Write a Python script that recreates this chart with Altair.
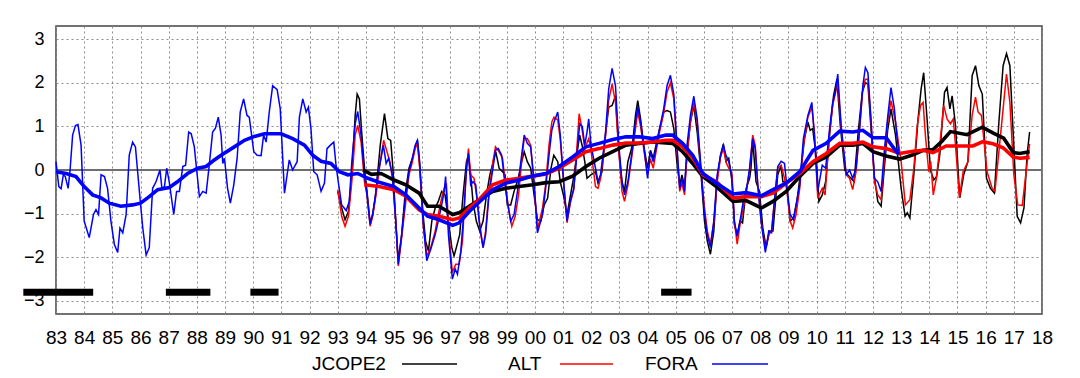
import altair as alt
import pandas as pd

# ---------------- data (decimal year, anomaly) ----------------
FORA_MONTHLY = [
    (1983.00, 0.19), (1983.10, -0.38), (1983.18, -0.43), (1983.26, -0.11), (1983.33, -0.15),
    (1983.43, -0.42), (1983.50, 0.00), (1983.59, 0.80), (1983.69, 1.02), (1983.78, 1.04),
    (1983.89, 0.57), (1984.00, -1.17), (1984.18, -1.55), (1984.33, -1.02), (1984.42, -0.91),
    (1984.51, -1.02), (1984.60, -0.11), (1984.72, -0.15), (1984.83, -0.42), (1984.95, -1.17),
    (1985.07, -1.70), (1985.19, -1.89), (1985.27, -1.33), (1985.37, -1.44), (1985.49, -1.02),
    (1985.60, 0.34), (1985.72, 0.64), (1985.82, 0.53), (1985.96, -0.49), (1986.08, -1.33),
    (1986.20, -1.95), (1986.31, -1.78), (1986.43, -0.42), (1986.55, -0.27), (1986.69, 0.00),
    (1986.76, -0.42), (1986.85, -0.38), (1986.93, 0.04), (1987.02, -0.27), (1987.18, -1.02),
    (1987.28, -0.49), (1987.38, -0.49), (1987.50, 0.08), (1987.60, 0.11), (1987.71, 0.87),
    (1987.80, 0.83), (1987.91, 0.53), (1988.09, -0.61), (1988.21, -0.49), (1988.33, -0.53),
    (1988.44, 0.11), (1988.56, 0.87), (1988.66, 0.96), (1988.76, 1.21), (1988.86, 0.80),
    (1988.92, 0.15), (1988.98, 0.27), (1989.09, -0.42), (1989.19, -0.76), (1989.31, -0.34),
    (1989.43, 0.27), (1989.54, 1.33), (1989.66, 1.63), (1989.78, 1.25), (1989.86, 1.21),
    (1990.02, 0.42), (1990.14, 0.34), (1990.28, 0.33), (1990.37, 0.80), (1990.46, 0.64),
    (1990.57, 1.33), (1990.69, 1.93), (1990.85, 1.84), (1990.96, 1.40), (1991.11, -0.53),
    (1991.28, 0.23), (1991.40, 0.00), (1991.56, 0.19), (1991.64, 1.21), (1991.76, 1.63),
    (1991.88, 1.33), (1991.96, 1.44), (1992.05, 0.95), (1992.15, -0.04), (1992.27, -0.11),
    (1992.41, -0.49), (1992.53, -0.30), (1992.62, 0.49), (1992.74, 0.57), (1992.86, 0.64),
    (1992.94, 0.11), (1993.02, -0.27), (1993.14, -0.80), (1993.30, -0.93), (1993.41, -0.72),
    (1993.50, 0.19), (1993.62, 1.06), (1993.71, 1.34), (1993.83, 0.80), (1993.95, -0.11),
    (1994.04, -0.57), (1994.15, -1.25), (1994.24, -1.02), (1994.33, -0.64), (1994.42, -0.11),
    (1994.54, 0.27), (1994.62, 0.57), (1994.72, 0.15), (1994.81, 0.27), (1994.94, -0.11),
    (1995.06, -1.17), (1995.15, -2.16), (1995.27, -1.48), (1995.39, -0.72), (1995.53, -0.04),
    (1995.65, 0.27), (1995.75, 0.57), (1995.83, 0.68), (1995.91, 0.19), (1996.03, -1.17),
    (1996.16, -2.08), (1996.30, -1.82), (1996.46, -1.48), (1996.57, -1.17), (1996.69, -0.80),
    (1996.78, -0.49), (1996.83, -0.15), (1996.93, -1.48), (1997.07, -2.50), (1997.17, -2.27),
    (1997.25, -2.39), (1997.37, -1.86), (1997.49, -0.87), (1997.57, 0.04), (1997.64, 0.38),
    (1997.72, -0.34), (1997.80, -0.27), (1997.90, -0.34), (1998.02, -1.17), (1998.16, -1.78),
    (1998.25, -1.48), (1998.37, -0.57), (1998.51, 0.04), (1998.60, 0.45), (1998.70, 0.49),
    (1998.82, 0.34), (1998.94, -0.34), (1999.02, -0.72), (1999.14, -1.17), (1999.26, -1.02),
    (1999.38, -0.49), (1999.50, 0.19), (1999.62, 0.80), (1999.73, 0.61), (1999.85, 0.53),
    (1999.97, -0.27), (2000.09, -1.44), (2000.27, -1.02), (2000.38, -0.42), (2000.50, 0.34),
    (2000.60, 0.91), (2000.68, 1.10), (2000.81, 1.33), (2000.90, 0.80), (2001.02, -0.27),
    (2001.14, -1.17), (2001.26, -0.70), (2001.38, -0.42), (2001.50, 0.42), (2001.59, 1.06),
    (2001.68, 1.00), (2001.77, 0.57), (2001.85, 0.87), (2001.91, 1.17), (2001.99, 0.57),
    (2002.15, 0.04), (2002.24, -0.27), (2002.33, -0.11), (2002.50, 0.80), (2002.62, 1.86),
    (2002.74, 2.33), (2002.86, 1.93), (2002.98, 0.57), (2003.09, -0.27), (2003.18, -0.57),
    (2003.30, -0.27), (2003.46, 0.49), (2003.57, 1.10), (2003.65, 1.44), (2003.75, 1.10),
    (2003.86, 0.57), (2004.00, -0.19), (2004.10, 0.42), (2004.20, 0.19), (2004.30, 0.50),
    (2004.40, 0.87), (2004.57, 1.40), (2004.69, 1.93), (2004.81, 2.17), (2004.93, 1.74),
    (2005.05, 0.49), (2005.14, -0.42), (2005.22, -0.19), (2005.31, -0.49), (2005.40, 0.57),
    (2005.52, 1.25), (2005.64, 1.69), (2005.76, 1.17), (2005.88, 0.19), (2006.02, -1.02),
    (2006.12, -1.48), (2006.23, -1.78), (2006.35, -1.17), (2006.47, -0.11), (2006.59, 0.34),
    (2006.69, 0.57), (2006.78, 0.34), (2006.88, 0.19), (2006.98, -0.11), (2007.08, -1.17),
    (2007.18, -1.52), (2007.28, -1.17), (2007.40, -0.70), (2007.50, -0.49), (2007.62, 0.04),
    (2007.73, 0.72), (2007.82, 0.49), (2007.91, -0.34), (2008.03, -1.17), (2008.18, -1.89),
    (2008.30, -1.40), (2008.40, -1.44), (2008.50, -0.72), (2008.62, 0.08), (2008.74, 0.20),
    (2008.86, 0.15), (2008.95, -0.42), (2009.06, -1.02), (2009.18, -1.14), (2009.27, -0.80),
    (2009.40, -0.34), (2009.53, 0.72), (2009.69, 1.25), (2009.83, 1.55), (2009.92, 0.80),
    (2010.04, -0.49), (2010.20, 0.11), (2010.32, 0.04), (2010.46, 0.95), (2010.57, 1.55),
    (2010.66, 1.78), (2010.75, 2.20), (2010.87, 1.02), (2011.05, -0.11), (2011.17, 0.00),
    (2011.28, -0.19), (2011.40, 0.04), (2011.52, 0.90), (2011.64, 1.93), (2011.73, 2.35),
    (2011.82, 2.23), (2011.93, 1.17), (2012.05, -0.19), (2012.17, -0.27), (2012.29, -0.49),
    (2012.41, 0.49), (2012.52, 1.20), (2012.64, 1.89), (2012.76, 1.40), (2012.86, 0.70),
    (2012.92, 0.40),
]

ALT_MONTHLY = [
    (1993.00, -0.45), (1993.14, -1.06), (1993.26, -1.29), (1993.38, -1.06), (1993.50, -0.27),
    (1993.62, 0.80), (1993.71, 1.02), (1993.83, 0.64), (1993.95, -0.27), (1994.04, -0.57),
    (1994.15, -1.29), (1994.24, -1.06), (1994.36, -0.57), (1994.51, 0.19), (1994.63, 0.68),
    (1994.75, 0.42), (1994.85, 0.19), (1994.94, -0.19), (1995.06, -1.17), (1995.15, -2.20),
    (1995.27, -1.55), (1995.39, -0.87), (1995.53, -0.11), (1995.65, 0.19), (1995.75, 0.49),
    (1995.83, 0.61), (1995.91, 0.04), (1996.03, -1.25), (1996.16, -1.97), (1996.30, -1.78),
    (1996.46, -1.40), (1996.57, -1.02), (1996.69, -0.64), (1996.78, -0.42), (1996.86, -0.34),
    (1996.95, -1.48), (1997.07, -2.35), (1997.19, -2.16), (1997.31, -2.16), (1997.43, -1.63),
    (1997.54, -0.27), (1997.64, 0.49), (1997.72, -0.11), (1997.84, -0.19), (1997.96, -0.72),
    (1998.08, -1.48), (1998.16, -1.78), (1998.25, -1.40), (1998.37, -0.49), (1998.51, 0.19),
    (1998.60, 0.53), (1998.70, 0.45), (1998.85, 0.27), (1998.97, -0.42), (1999.08, -0.95),
    (1999.18, -1.29), (1999.30, -1.06), (1999.42, -0.57), (1999.54, 0.27), (1999.62, 0.72),
    (1999.73, 0.72), (1999.85, 0.57), (1999.97, -0.34), (2000.09, -1.36), (2000.27, -0.87),
    (2000.38, -0.34), (2000.50, 0.57), (2000.60, 1.10), (2000.68, 1.21), (2000.81, 1.15),
    (2000.90, 0.70), (2001.02, -0.30), (2001.14, -1.21), (2001.26, -0.75), (2001.38, -0.45),
    (2001.50, 0.60), (2001.57, 1.29), (2001.68, 0.90), (2001.77, 0.49), (2001.91, 0.72),
    (2001.99, 0.45), (2002.15, -0.38), (2002.24, -0.42), (2002.33, -0.20), (2002.50, 0.72),
    (2002.62, 1.60), (2002.74, 1.97), (2002.86, 1.55), (2002.98, 0.40), (2003.09, -0.49),
    (2003.18, -0.72), (2003.30, -0.35), (2003.46, 0.40), (2003.57, 0.95), (2003.65, 1.33),
    (2003.75, 1.00), (2003.86, 0.50), (2004.00, -0.11), (2004.10, 0.25), (2004.20, 0.04),
    (2004.40, 0.80), (2004.57, 1.30), (2004.69, 1.78), (2004.81, 2.00), (2004.93, 1.63),
    (2005.05, 0.40), (2005.14, -0.49), (2005.22, -0.30), (2005.31, -0.57), (2005.40, 0.40),
    (2005.52, 1.10), (2005.64, 1.55), (2005.76, 1.10), (2005.88, 0.10), (2006.02, -0.87),
    (2006.12, -1.40), (2006.23, -1.70), (2006.35, -1.20), (2006.47, -0.27), (2006.59, 0.30),
    (2006.69, 0.49), (2006.80, 0.15), (2007.00, -0.11), (2007.08, -1.17), (2007.18, -1.70),
    (2007.28, -1.25), (2007.50, -0.53), (2007.62, 0.00), (2007.73, 0.80), (2007.82, 0.57),
    (2007.91, -0.34), (2008.03, -1.17), (2008.18, -1.82), (2008.30, -1.48), (2008.40, -1.40),
    (2008.50, -0.72), (2008.62, 0.04), (2008.74, 0.11), (2008.86, -0.19), (2008.95, -0.49),
    (2009.06, -1.17), (2009.15, -1.33), (2009.27, -1.02), (2009.40, -0.42), (2009.53, 0.57),
    (2009.69, 1.21), (2009.83, 1.44), (2009.92, 0.87), (2010.04, -0.64), (2010.20, -0.42),
    (2010.30, -0.57), (2010.46, 0.87), (2010.57, 1.48), (2010.75, 2.00), (2010.87, 0.95),
    (2011.05, -0.11), (2011.17, -0.19), (2011.28, -0.45), (2011.40, -0.04), (2011.52, 0.90),
    (2011.64, 1.86), (2011.73, 2.08), (2011.82, 2.08), (2011.93, 1.10), (2012.05, -0.27),
    (2012.17, -0.57), (2012.29, -0.68), (2012.41, 0.30), (2012.52, 1.10), (2012.64, 1.59),
    (2012.80, 1.10), (2013.00, 0.19), (2013.15, -0.80), (2013.31, -0.68), (2013.45, 0.04),
    (2013.57, 1.02), (2013.69, 1.48), (2013.78, 1.55), (2013.86, 0.80), (2013.98, -0.04),
    (2014.05, 0.20), (2014.14, -0.57), (2014.25, -0.19), (2014.34, 0.34), (2014.51, 1.48),
    (2014.63, 1.17), (2014.75, 1.06), (2014.85, 1.17), (2014.93, 0.57), (2015.07, -0.64),
    (2015.20, -0.04), (2015.37, 0.19), (2015.52, 1.25), (2015.64, 1.67), (2015.73, 1.33),
    (2015.85, 1.25), (2016.05, -0.04), (2016.23, -0.42), (2016.33, -0.49), (2016.47, 0.42),
    (2016.62, 1.40), (2016.74, 2.20), (2016.86, 1.55), (2017.00, -0.11), (2017.14, -0.80),
    (2017.30, -0.81), (2017.45, 0.04), (2017.56, 0.60),
]

JCOPE2_MONTHLY = [
    (1993.00, -0.49), (1993.14, -0.87), (1993.26, -1.14), (1993.38, -0.95), (1993.50, -0.11),
    (1993.62, 1.25), (1993.69, 1.74), (1993.77, 1.63), (1993.85, 0.87), (1993.95, 0.04),
    (1994.04, -0.49), (1994.15, -1.21), (1994.24, -1.02), (1994.36, -0.49), (1994.51, 0.57),
    (1994.66, 1.29), (1994.78, 0.72), (1994.88, 0.68), (1994.96, 0.04), (1995.06, -1.17),
    (1995.15, -2.08), (1995.27, -1.48), (1995.39, -0.57), (1995.53, 0.04), (1995.65, 0.27),
    (1995.75, 0.53), (1995.83, 0.68), (1995.91, 0.11), (1996.03, -1.02), (1996.12, -1.63),
    (1996.22, -1.86), (1996.34, -1.17), (1996.46, -0.87), (1996.57, -0.72), (1996.69, -0.49),
    (1996.81, -0.57), (1996.93, -1.17), (1997.05, -1.78), (1997.13, -1.97), (1997.21, -1.78),
    (1997.33, -1.48), (1997.45, -0.57), (1997.57, 0.19), (1997.64, 0.34), (1997.72, -0.11),
    (1997.80, -0.72), (1997.92, -1.17), (1998.04, -1.40), (1998.16, -1.17), (1998.28, -0.57),
    (1998.40, -0.11), (1998.49, 0.11), (1998.61, 0.42), (1998.73, 0.04), (1998.85, -0.04),
    (1998.94, -0.11), (1999.02, -0.80), (1999.14, -0.80), (1999.26, -0.49), (1999.41, -0.19),
    (1999.53, 0.19), (1999.62, 0.42), (1999.73, 0.19), (1999.85, 0.04), (1999.97, -0.57),
    (2000.09, -1.14), (2000.21, -1.17), (2000.33, -0.80), (2000.45, -0.65), (2000.57, 0.04),
    (2000.67, 0.34), (2000.81, 0.19), (2000.90, -0.27), (2001.02, -0.60), (2001.14, -1.02),
    (2001.38, -0.15), (2001.50, 0.42), (2001.59, 0.80), (2001.68, 0.55), (2001.77, 0.19),
    (2001.85, -0.19), (2001.99, -0.11), (2002.15, -0.04), (2002.24, -0.30), (2002.38, -0.04),
    (2002.50, 0.80), (2002.62, 1.44), (2002.74, 1.48), (2002.86, 1.70), (2002.98, 0.42),
    (2003.09, -0.27), (2003.18, -0.49), (2003.30, 0.19), (2003.46, 0.57), (2003.57, 1.25),
    (2003.65, 1.59), (2003.75, 1.17), (2003.86, 0.57), (2004.00, 0.04), (2004.10, 0.45),
    (2004.20, 0.27), (2004.40, 0.87), (2004.57, 1.33), (2004.69, 1.36), (2004.81, 1.33),
    (2004.93, 0.95), (2005.05, 0.11), (2005.14, -0.34), (2005.22, -0.11), (2005.31, -0.38),
    (2005.40, 0.34), (2005.52, 1.10), (2005.64, 1.48), (2005.76, 0.87), (2005.88, 0.04),
    (2006.02, -1.17), (2006.12, -1.63), (2006.23, -1.93), (2006.35, -1.40), (2006.47, -0.19),
    (2006.59, 0.34), (2006.69, 0.60), (2006.78, 0.20), (2006.88, 0.27), (2007.00, -0.27),
    (2007.08, -1.25), (2007.18, -1.48), (2007.28, -1.17), (2007.37, -1.21), (2007.50, -0.42),
    (2007.62, -0.19), (2007.67, 0.04), (2007.73, 0.68), (2007.85, -0.27), (2007.97, -0.49),
    (2008.09, -1.33), (2008.21, -1.78), (2008.33, -1.40), (2008.45, -1.40), (2008.54, -0.72),
    (2008.62, -0.11), (2008.74, 0.11), (2008.80, -0.27), (2008.92, -0.27), (2009.06, -1.17),
    (2009.18, -1.10), (2009.30, -0.72), (2009.45, 0.04), (2009.57, 0.72), (2009.69, 1.10),
    (2009.77, 0.91), (2009.86, 0.95), (2009.98, 0.34), (2010.08, -0.72), (2010.20, -0.57),
    (2010.32, -0.27), (2010.46, 0.80), (2010.60, 1.70), (2010.72, 2.08), (2010.84, 1.02),
    (2011.00, 0.00), (2011.10, -0.11), (2011.22, -0.19), (2011.33, -0.27), (2011.48, 0.90),
    (2011.62, 1.78), (2011.73, 2.00), (2011.82, 1.97), (2011.93, 0.95), (2012.05, -0.15),
    (2012.17, -0.72), (2012.29, -0.83), (2012.41, 0.10), (2012.52, 0.90), (2012.64, 1.40),
    (2012.80, 0.80), (2013.00, -0.42), (2013.14, -1.06), (2013.22, -0.98), (2013.31, -1.10),
    (2013.45, -0.11), (2013.60, 1.17), (2013.71, 1.86), (2013.80, 2.23), (2013.92, 1.17),
    (2014.04, 0.00), (2014.16, -0.23), (2014.26, -0.15), (2014.37, 0.34), (2014.54, 1.78),
    (2014.63, 1.89), (2014.73, 1.40), (2014.81, 1.70), (2014.93, 1.02), (2015.08, -0.64),
    (2015.22, -0.11), (2015.37, 0.19), (2015.52, 2.16), (2015.64, 2.39), (2015.76, 1.93),
    (2015.88, 1.74), (2016.03, -0.19), (2016.17, -0.42), (2016.31, -0.53), (2016.47, 1.10),
    (2016.62, 2.39), (2016.74, 2.67), (2016.86, 2.39), (2016.98, 0.80), (2017.12, -1.06),
    (2017.24, -1.21), (2017.36, -0.87), (2017.47, 0.34), (2017.56, 0.87),
]

FORA_SMOOTH = [
    (1983.00, -0.04), (1983.36, -0.08), (1983.71, -0.15), (1984.00, -0.38), (1984.30, -0.57),
    (1984.60, -0.64), (1984.89, -0.76), (1985.30, -0.83), (1985.72, -0.80), (1986.00, -0.76),
    (1986.31, -0.61), (1986.61, -0.45), (1987.02, -0.40), (1987.31, -0.27), (1987.67, -0.08),
    (1988.03, 0.04), (1988.33, 0.08), (1988.62, 0.23), (1988.86, 0.34), (1989.33, 0.53),
    (1989.69, 0.68), (1990.04, 0.77), (1990.40, 0.83), (1990.99, 0.83), (1991.40, 0.72),
    (1991.82, 0.57), (1992.11, 0.34), (1992.41, 0.20), (1992.76, 0.15), (1993.06, -0.04),
    (1993.36, -0.11), (1993.71, -0.08), (1994.07, -0.19), (1994.47, -0.28), (1995.00, -0.38),
    (1995.42, -0.57), (1995.89, -0.87), (1996.19, -1.06), (1996.60, -1.14), (1997.08, -1.27),
    (1997.31, -1.21), (1997.67, -0.95), (1998.02, -0.74), (1998.50, -0.45), (1998.97, -0.30),
    (1999.44, -0.23), (1999.92, -0.14), (2000.39, -0.08), (2000.86, 0.08), (2001.34, 0.30),
    (2001.81, 0.53), (2002.28, 0.61), (2002.76, 0.70), (2003.23, 0.76), (2003.70, 0.76),
    (2004.18, 0.72), (2004.65, 0.80), (2004.89, 0.80), (2005.24, 0.61), (2005.60, 0.34),
    (2005.96, -0.08), (2006.44, -0.30), (2007.03, -0.55), (2007.50, -0.52), (2008.04, -0.59),
    (2008.45, -0.45), (2008.92, -0.30), (2009.40, -0.04), (2009.87, 0.45), (2010.34, 0.61),
    (2010.82, 0.89), (2011.29, 0.87), (2011.64, 0.91), (2012.00, 0.74), (2012.47, 0.74),
    (2012.83, 0.42), (2012.92, 0.36),
]

ALT_SMOOTH = [
    (1993.95, -0.34), (1994.47, -0.38), (1995.00, -0.45), (1995.42, -0.60), (1995.89, -0.91),
    (1996.19, -1.02), (1996.60, -1.06), (1997.08, -1.14), (1997.31, -1.10), (1997.67, -0.87),
    (1998.02, -0.68), (1998.50, -0.34), (1998.97, -0.23), (1999.44, -0.19), (1999.92, -0.14),
    (2000.39, -0.09), (2000.86, 0.04), (2001.34, 0.23), (2001.81, 0.42), (2002.28, 0.49),
    (2002.76, 0.57), (2003.23, 0.62), (2003.70, 0.62), (2004.18, 0.64), (2004.65, 0.68),
    (2004.89, 0.68), (2005.24, 0.53), (2005.60, 0.28), (2005.96, -0.11), (2006.44, -0.27),
    (2007.03, -0.64), (2007.50, -0.61), (2008.04, -0.61), (2008.45, -0.53), (2008.92, -0.30),
    (2009.40, -0.08), (2009.87, 0.19), (2010.34, 0.38), (2010.82, 0.61), (2011.29, 0.61),
    (2011.64, 0.64), (2012.00, 0.53), (2012.47, 0.49), (2012.95, 0.38), (2013.42, 0.43),
    (2013.78, 0.45), (2014.13, 0.40), (2014.60, 0.55), (2015.08, 0.55), (2015.55, 0.55),
    (2015.90, 0.65), (2016.26, 0.60), (2016.62, 0.51), (2016.97, 0.30), (2017.21, 0.27),
    (2017.56, 0.29),
]

JCOPE2_SMOOTH = [
    (1993.90, 0.00), (1994.20, -0.10), (1994.54, -0.08), (1995.00, -0.23), (1995.42, -0.34),
    (1995.89, -0.53), (1996.19, -0.83), (1996.60, -0.83), (1997.08, -1.02), (1997.31, -0.98),
    (1997.67, -0.83), (1998.02, -0.68), (1998.50, -0.49), (1998.97, -0.42), (1999.44, -0.38),
    (1999.92, -0.34), (2000.39, -0.29), (2000.86, -0.27), (2001.34, -0.14), (2001.81, 0.08),
    (2002.28, 0.27), (2002.76, 0.42), (2003.23, 0.57), (2003.70, 0.61), (2004.18, 0.64),
    (2004.65, 0.62), (2004.89, 0.61), (2005.24, 0.42), (2005.60, 0.15), (2005.96, -0.15),
    (2006.44, -0.38), (2007.03, -0.72), (2007.50, -0.70), (2008.04, -0.87), (2008.45, -0.72),
    (2008.92, -0.49), (2009.40, -0.15), (2009.87, 0.15), (2010.34, 0.30), (2010.82, 0.57),
    (2011.29, 0.57), (2011.64, 0.61), (2012.00, 0.42), (2012.47, 0.32), (2012.95, 0.25),
    (2013.42, 0.35), (2013.78, 0.45), (2014.13, 0.47), (2014.45, 0.66), (2014.75, 0.88),
    (2015.34, 0.81), (2015.88, 0.98), (2016.29, 0.84), (2016.64, 0.73), (2016.98, 0.40),
    (2017.20, 0.38), (2017.56, 0.42),
]

# periods marked by black bars (start year, end year) at level below the curves
PERIOD_START = [1981.84, 1986.90, 1989.90, 2004.48]
PERIOD_END = [1984.32, 1988.48, 1990.90, 2005.56]
PERIOD_LEVEL = -2.8

YEARS = list(range(1983, 2019))
Y_TICKS = [-3, -2, -1, 0, 1, 2, 3]
SERIES = ["JCOPE2", "ALT", "FORA"]
COLORS = ["#000000", "#ff0000", "#0000ff"]

# ---------------- build tables ----------------
def to_df(pairs, name):
    return pd.DataFrame({"t": [p[0] for p in pairs], "v": [p[1] for p in pairs], "series": name})

monthly = {"JCOPE2": to_df(JCOPE2_MONTHLY, "JCOPE2"),
           "ALT": to_df(ALT_MONTHLY, "ALT"),
           "FORA": to_df(FORA_MONTHLY, "FORA")}
smooth = {"JCOPE2": to_df(JCOPE2_SMOOTH, "JCOPE2"),
          "ALT": to_df(ALT_SMOOTH, "ALT"),
          "FORA": to_df(FORA_SMOOTH, "FORA")}
bars_df = pd.DataFrame({"t": PERIOD_START, "t2": PERIOD_END, "v": [PERIOD_LEVEL] * len(PERIOD_START)})
zero_df = pd.DataFrame({"v": [0]})

FONT = "Liberation Sans"
W, H = 986, 288

X = alt.X("t:Q",
          scale=alt.Scale(domain=[1983, 2018], nice=False, zero=False),
          axis=alt.Axis(values=YEARS, labelExpr="substring(toString(datum.value), 2, 4)",
                        title=None, grid=True, gridColor="#8c8c8c", gridDash=[2, 3],
                        gridWidth=1, domain=False, ticks=False, labelFontSize=19,
                        labelFont=FONT, labelColor="#000", labelPadding=14,
                        labelOverlap=False, labelFlush=False, labelBaseline="top"))
Y = alt.Y("v:Q",
          scale=alt.Scale(domain=[-3.3, 3.3], nice=False, zero=False),
          axis=alt.Axis(values=Y_TICKS, title=None, grid=True, gridColor="#8c8c8c",
                        gridDash=[2, 3], gridWidth=1, domain=False, ticks=False,
                        labelFontSize=18, labelFont=FONT, labelColor="#000",
                        labelPadding=12, format="d"))

layers = []
layers.append(alt.Chart(zero_df).mark_rule(color="#6e6e6e", strokeWidth=2).encode(y=Y))
for name, col in zip(SERIES, COLORS):
    layers.append(alt.Chart(monthly[name]).mark_line(color=col, strokeWidth=1.5).encode(x=X, y=Y))
for name, col in zip(SERIES, COLORS):
    layers.append(alt.Chart(smooth[name]).mark_line(color=col, strokeWidth=3.6).encode(x=X, y=Y))
layers.append(alt.Chart(bars_df).mark_rule(color="#000000", strokeWidth=7, strokeCap="butt",
                                           clip=False).encode(x=X, x2="t2:Q", y=Y))

# legend below the plot (label then line sample)
LEG_TEXT_X = [256, 452, 589]
LEG_LINE_X = [(346, 401), (504, 557), (656, 712)]
LEG_Y = 338
legend_df = pd.DataFrame({"name": SERIES, "color": COLORS})
for i, name in enumerate(SERIES):
    sub = alt.Chart(legend_df).transform_filter(alt.datum.name == name)
    layers.append(sub.mark_text(align="left", baseline="middle", fontSize=19, font=FONT,
                                color="#000").encode(text="name:N", x=alt.value(LEG_TEXT_X[i]),
                                                     y=alt.value(LEG_Y)))
    layers.append(sub.mark_rule(color=COLORS[i], strokeWidth=1.5).encode(
        x=alt.value(LEG_LINE_X[i][0]), x2=alt.value(LEG_LINE_X[i][1]), y=alt.value(LEG_Y)))

chart = alt.layer(*layers).properties(
    width=W, height=H,
    autosize=alt.AutoSizeParams(type="none"),
    padding={"left": 48, "top": 18, "right": 30, "bottom": 62},
    background="white",
).configure_view(stroke="#444444", strokeWidth=1.5)

chart.save("out.html", embed_options={"renderer": "svg", "actions": False})
